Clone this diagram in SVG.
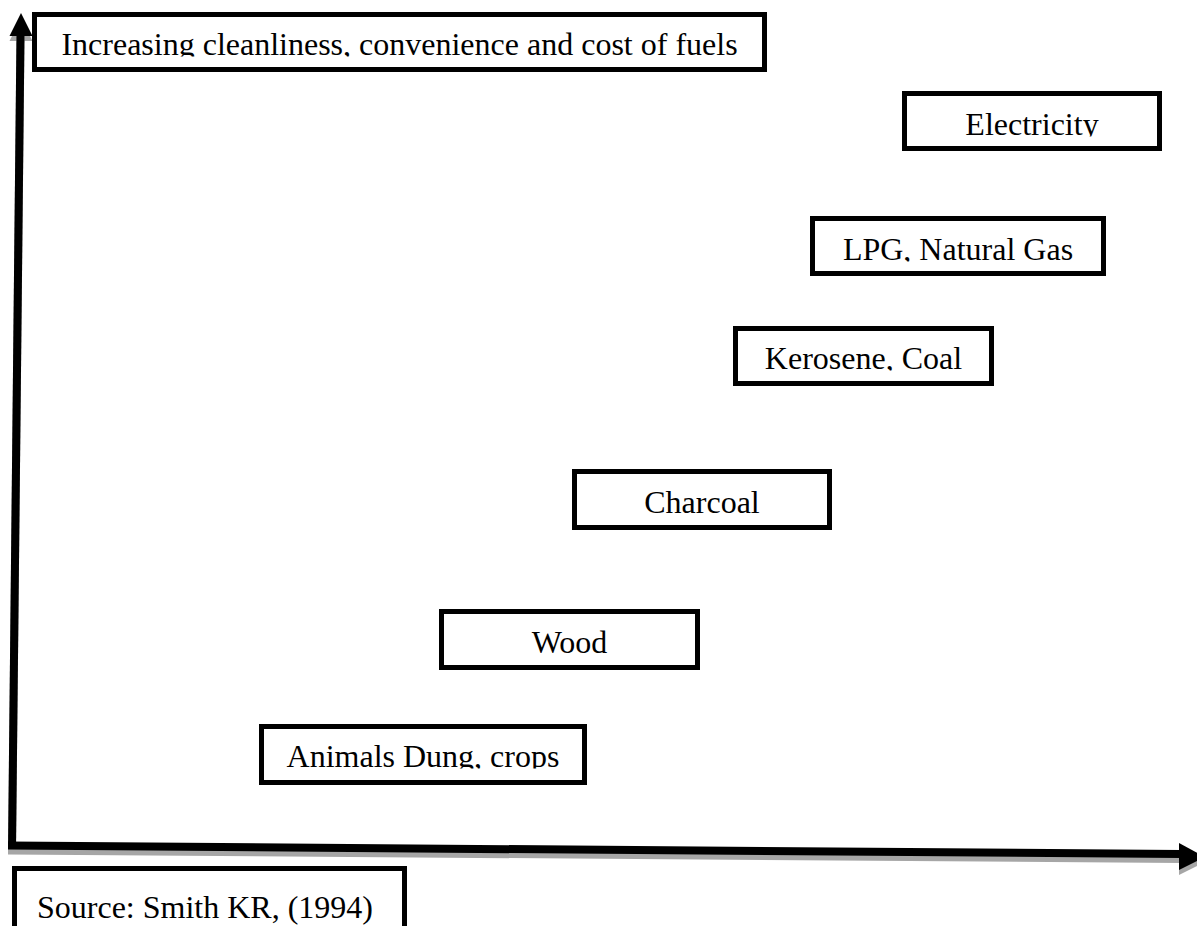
<svg xmlns="http://www.w3.org/2000/svg" width="1197" height="926" viewBox="0 0 1197 926">
  <style>
    .box { fill: #ffffff; stroke: #000000; stroke-width: 5; }
    .lbl { font-family: "Liberation Serif", "Times New Roman", serif; font-size: 32px; fill: #000000; }
    .mid { text-anchor: middle; }
    .axis { stroke: #000000; stroke-width: 8; fill: none; }
    .axis-sh { stroke: #a6a6a6; stroke-width: 8; fill: none; }
    .head { fill: #000000; }
    .head-sh { fill: #a6a6a6; }
  </style>
  <defs>
    <clipPath id="c-title"><rect x="37" y="17" width="725" height="39.5"/></clipPath>
    <clipPath id="c-elec"><rect x="907" y="96" width="250" height="40.5"/></clipPath>
    <clipPath id="c-lpg"><rect x="815" y="221" width="286" height="40.5"/></clipPath>
    <clipPath id="c-ker"><rect x="738" y="331" width="251" height="39.5"/></clipPath>
    <clipPath id="c-char"><rect x="577" y="474" width="250" height="40.5"/></clipPath>
    <clipPath id="c-wood"><rect x="444" y="614" width="251" height="40.5"/></clipPath>
    <clipPath id="c-anim"><rect x="264" y="729" width="318" height="39.5"/></clipPath>
  </defs>
  <rect x="0" y="0" width="1197" height="926" fill="#ffffff"/>

  <g id="connectors">
    <!-- shadows -->
    <line class="axis-sh" x1="12" y1="853" x2="20.5" y2="41"/>
    <polygon class="head-sh" points="21,18 32.5,41 9.5,41"/>
    <line class="axis-sh" x1="8" y1="850.5" x2="1182" y2="859"/>
    <polygon class="head-sh" points="1179,848 1179,875 1205,862"/>
    <!-- axes -->
    <line class="axis" x1="12" y1="849" x2="20.5" y2="34"/>
    <polygon class="head" points="21,13 32.5,36 9.5,36"/>
    <line class="axis" x1="8" y1="845.5" x2="1182" y2="854"/>
    <polygon class="head" points="1179,843 1179,870 1205,857"/>
  </g>

  <g id="title">
    <rect class="box" x="34.5" y="14.5" width="730" height="55"/>
    <text class="lbl mid" x="399.5" y="55" clip-path="url(#c-title)">Increasing cleanliness, convenience and cost of fuels</text>
  </g>

  <g id="electricity">
    <rect class="box" x="904.5" y="93.5" width="255" height="55"/>
    <text class="lbl mid" x="1032" y="135" clip-path="url(#c-elec)">Electricity</text>
  </g>

  <g id="lpg">
    <rect class="box" x="812.5" y="218.5" width="291" height="55"/>
    <text class="lbl mid" x="958" y="260" clip-path="url(#c-lpg)">LPG, Natural Gas</text>
  </g>

  <g id="kerosene">
    <rect class="box" x="735.5" y="328.5" width="256" height="55"/>
    <text class="lbl mid" x="863.5" y="369" clip-path="url(#c-ker)">Kerosene, Coal</text>
  </g>

  <g id="charcoal">
    <rect class="box" x="574.5" y="471.5" width="255" height="56"/>
    <text class="lbl mid" x="702" y="513" clip-path="url(#c-char)">Charcoal</text>
  </g>

  <g id="wood">
    <rect class="box" x="441.5" y="611.5" width="256" height="56"/>
    <text class="lbl mid" x="569.5" y="653" clip-path="url(#c-wood)">Wood</text>
  </g>

  <g id="animals">
    <rect class="box" x="261.5" y="726.5" width="323" height="56"/>
    <text class="lbl mid" x="423" y="767" clip-path="url(#c-anim)">Animals Dung, crops</text>
  </g>

  <g id="source">
    <rect class="box" x="14.5" y="868.5" width="390" height="70"/>
    <text class="lbl" x="37" y="918">Source: Smith KR, (1994)</text>
  </g>
</svg>
